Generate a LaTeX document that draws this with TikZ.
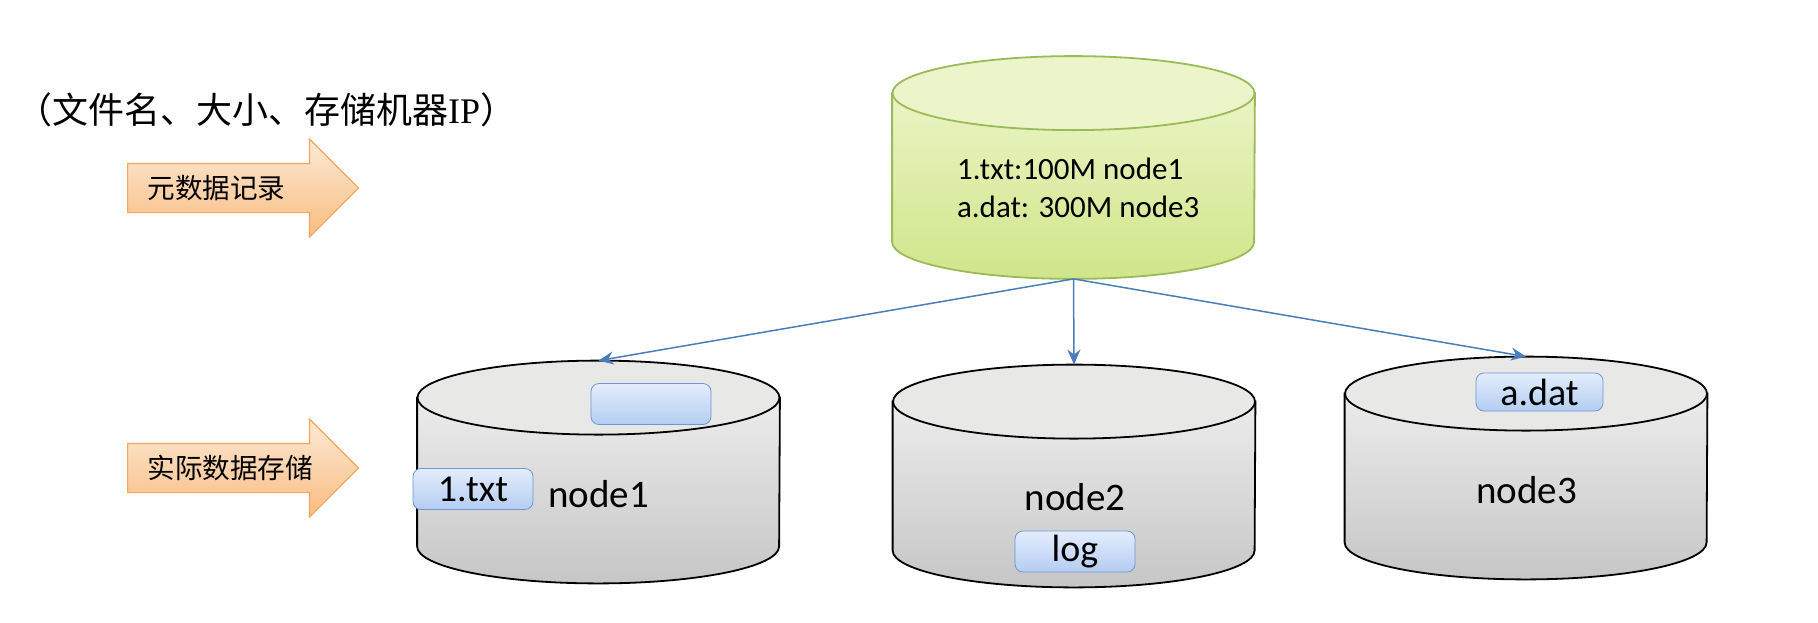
\documentclass[tikz,border=0pt]{standalone}
\usepackage{fontspec}
\setmainfont{Carlito}
\newfontfamily\cjk{Noto Sans CJK SC}
\newfontfamily\ipfont{Liberation Serif}
\usetikzlibrary{shapes.geometric, shapes.arrows, arrows.meta, positioning}

\definecolor{dbtop}{RGB}{236,236,236}
\definecolor{dbbot}{RGB}{198,198,198}
\definecolor{dbend}{RGB}{232,232,230}
\definecolor{metatop}{RGB}{234,244,196}
\definecolor{metabot}{RGB}{208,229,138}
\definecolor{metaend}{RGB}{236,245,202}
\definecolor{metaline}{RGB}{155,187,89}
\definecolor{filetop}{RGB}{228,237,252}
\definecolor{filebot}{RGB}{180,205,242}
\definecolor{fileline}{RGB}{110,150,210}
\definecolor{stagetop}{RGB}{253,234,214}
\definecolor{stagebot}{RGB}{249,188,128}
\definecolor{stageline}{RGB}{245,166,92}
\definecolor{linkblue}{RGB}{74,126,187}

\begin{document}
\begin{tikzpicture}[x=0.5pt,y=0.5pt]
\tikzstyle{dbbox} = [rectangle, minimum width=181pt, minimum height=111pt, inner sep=0pt]
\tikzstyle{db side} = [draw=black, line width=0.9pt, top color=dbtop, bottom color=dbbot]
\tikzstyle{db end} = [draw=black, line width=0.9pt, fill=dbend]
\tikzstyle{meta side} = [draw=metaline, line width=0.9pt, top color=metatop, bottom color=metabot]
\tikzstyle{meta end} = [draw=metaline, line width=0.9pt, fill=metaend]
\tikzstyle{file} = [rectangle, rounded corners=4pt, minimum width=60pt, minimum height=20.5pt, inner sep=0pt, draw=fileline, top color=filetop, bottom color=filebot, font=\fontsize{19}{20}\selectfont]
\tikzstyle{stage} = [single arrow, anchor=tail, single arrow head extend=12.25pt, minimum height=115.5pt, minimum width=48.5pt, inner ysep=12pt, draw=stageline, line width=0.6pt, top color=stagetop, bottom color=stagebot]
\tikzstyle{stagetext} = [font=\cjk\fontsize{13.8}{15}\selectfont, inner sep=0pt]
\tikzstyle{host} = [font=\fontsize{19.5}{20}\selectfont]
\tikzstyle{link} = [line width=0.75pt, draw=linkblue, -{Stealth[length=7.5pt,width=6.5pt]}]

\useasboundingbox (0,0) rectangle (1818,-622);

%nodes
\node (title) [anchor=west, font=\fontsize{18}{20}\selectfont] at (9,-110) {{\cjk （文件名、大小、存储机器}{\ipfont IP}{\cjk ）}};
\node (metaarrow) [stage] at (127,-188) {};
\node (metalabel) [stagetext, right=10pt of metaarrow.tail] {元数据记录};
\node (dataarrow) [stage] at (127,-468) {};
\node (datalabel) [stagetext, right=10pt of dataarrow.tail] {实际数据存储};

\node (meta) [dbbox] at (1073.5,-167.5) {};
\node (n1) [dbbox] at (598.5,-472) {};
\node (n2) [dbbox] at (1074,-476) {};
\node (n3) [dbbox] at (1526,-468) {};

%cylinders
\foreach \n/\s in {meta/meta, n1/db, n2/db, n3/db} {
  \path [\s\space side] ([yshift=-18.5pt]\n.north west) -- ([yshift=18.5pt]\n.south west)
    arc [start angle=180, end angle=360, x radius=90.5pt, y radius=18.5pt]
    -- ([yshift=-18.5pt]\n.north east) -- cycle;
  \path [\s\space end] ([yshift=-18.5pt]\n.north) ellipse [x radius=90.5pt, y radius=18.5pt];
}

\node (metatext) [anchor=west, align=left, font=\fontsize{15.5}{19}\selectfont] at (950,-188) {1.txt:100M node1\\a.dat: 300M node3};
\node (n1name) [host] at (598.5,-494) {node1};
\node (n2name) [host] at (1075,-497) {node2};
\node (n3name) [host] at (1526.5,-490) {node3};

\node (slot) [file] at (651,-404) {};
\node (txt) [file] at (473,-489) {1.txt};
\node (log) [file] at (1075,-551.5) {log};
\node (dat) [file, minimum width=63.5pt, minimum height=19pt] at (1539.5,-392) {a.dat};

%lines
\draw [link] (meta.south) -- (n1.north);
\draw [link] (meta.south) -- (n2.north);
\draw [link] (meta.south) -- (n3.north);

\end{tikzpicture}
\end{document}
